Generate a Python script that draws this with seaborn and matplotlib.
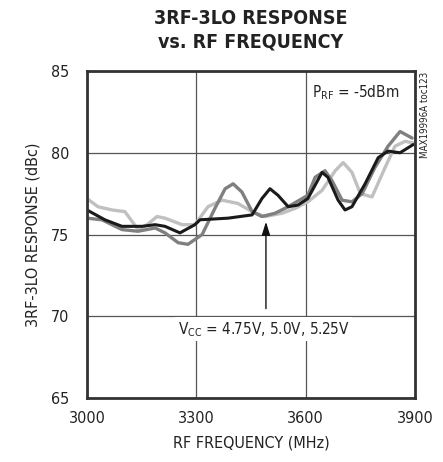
import matplotlib
matplotlib.use("Agg")
import matplotlib.pyplot as plt
import seaborn as sns

# Curve values
freq_black = [3000, 3049, 3096, 3151, 3187, 3214, 3255, 3296, 3310, 3387, 3453, 3480, 3502, 3524,
              3552, 3579, 3606, 3645, 3661, 3689, 3708, 3727, 3763, 3799, 3826, 3859, 3895]
resp_black = [76.5, 75.9, 75.5, 75.5, 75.6, 75.5, 75.1, 75.6, 75.9, 76.0, 76.2, 77.2, 77.8, 77.4,
              76.7, 76.8, 77.2, 78.8, 78.5, 77.1, 76.5, 76.7, 78.1, 79.7, 80.1, 80.0, 80.5]

freq_dark = [3000, 3041, 3096, 3140, 3187, 3214, 3250, 3277, 3316, 3351, 3379, 3401, 3425, 3453,
             3480, 3516, 3552, 3606, 3626, 3653, 3672, 3700, 3727, 3755, 3790, 3826, 3859, 3892]
resp_dark = [76.0, 75.9, 75.3, 75.2, 75.4, 75.1, 74.5, 74.4, 75.0, 76.6, 77.8, 78.1, 77.6, 76.4,
             76.1, 76.3, 76.7, 77.4, 78.5, 78.9, 78.3, 77.1, 77.0, 77.5, 79.1, 80.4, 81.3, 80.9]

freq_light = [3000, 3030, 3069, 3104, 3140, 3165, 3192, 3214, 3261, 3296, 3332, 3370, 3414, 3453,
              3488, 3535, 3571, 3606, 3645, 3681, 3703, 3727, 3750, 3782, 3818, 3845, 3873, 3895]
resp_light = [77.2, 76.7, 76.5, 76.4, 75.3, 75.6, 76.1, 76.0, 75.6, 75.6, 76.7, 77.1, 76.9, 76.4,
              76.1, 76.3, 76.6, 77.0, 77.7, 78.9, 79.4, 78.8, 77.5, 77.3, 79.1, 80.4, 80.7, 80.6]

x_ticks = [3000, 3300, 3600, 3900]
y_ticks = [65, 70, 75, 80, 85]

sns.set_style("white")
plt.rcParams["font.family"] = ["DejaVu Sans"]
plt.rcParams["font.stretch"] = "condensed"

fig = plt.figure(figsize=(4.43, 4.62), dpi=100)
ax = fig.add_axes([0.1964, 0.1385, 0.7404, 0.7078])

line_kw = dict(solid_joinstyle="round", solid_capstyle="round")
sns.lineplot(x=freq_light, y=resp_light, ax=ax, color="#c0c0c0", linewidth=2.4, **line_kw)
sns.lineplot(x=freq_dark, y=resp_dark, ax=ax, color="#808080", linewidth=2.4, **line_kw)
sns.lineplot(x=freq_black, y=resp_black, ax=ax, color="#1a1a1a", linewidth=2.2, **line_kw)

ax.set_xlim(3000, 3900)
ax.set_ylim(65, 85)
ax.set_xticks(x_ticks)
ax.set_yticks(y_ticks)
ax.tick_params(length=0, labelsize=11.5, colors="#222222")
ax.tick_params(axis="y", pad=13)
ax.tick_params(axis="x", pad=9)
ax.grid(True, color="#555555", linewidth=0.9)
ax.set_axisbelow(True)
for s in ax.spines.values():
    s.set_linewidth(2)
    s.set_color("#333333")

ax.set_xlabel("RF FREQUENCY (MHz)", fontsize=11.5, labelpad=7, color="#222222")
ax.set_ylabel("3RF-3LO RESPONSE (dBc)", fontsize=11.5, labelpad=7, color="#222222")

fig.text(0.566, 0.98, "3RF-3LO RESPONSE\nvs. RF FREQUENCY", ha="center", va="top",
         fontsize=14, fontweight="bold", linespacing=1.3, color="#222222")

ax.text(0.952, 0.935, r"P$_{\mathregular{RF}}$ = -5dBm", transform=ax.transAxes,
        ha="right", va="center", fontsize=11, color="#222222")

fig.text(0.96, 0.845, "MAX19996A toc123", rotation=90, ha="center", va="top",
         fontsize=7, color="#222222")

ax.annotate("", xy=(3491, 75.95), xytext=(3491, 70.3),
            arrowprops=dict(arrowstyle="-|>,head_width=0.25,head_length=0.8",
                            color="#111111", linewidth=1.0))
ax.text(3485, 69.2, r"V$_{\mathregular{CC}}$ = 4.75V, 5.0V, 5.25V", ha="center", va="center",
        fontsize=11, color="#222222",
        bbox=dict(facecolor="white", edgecolor="none", pad=2))

fig.savefig("out.png", dpi=100)
